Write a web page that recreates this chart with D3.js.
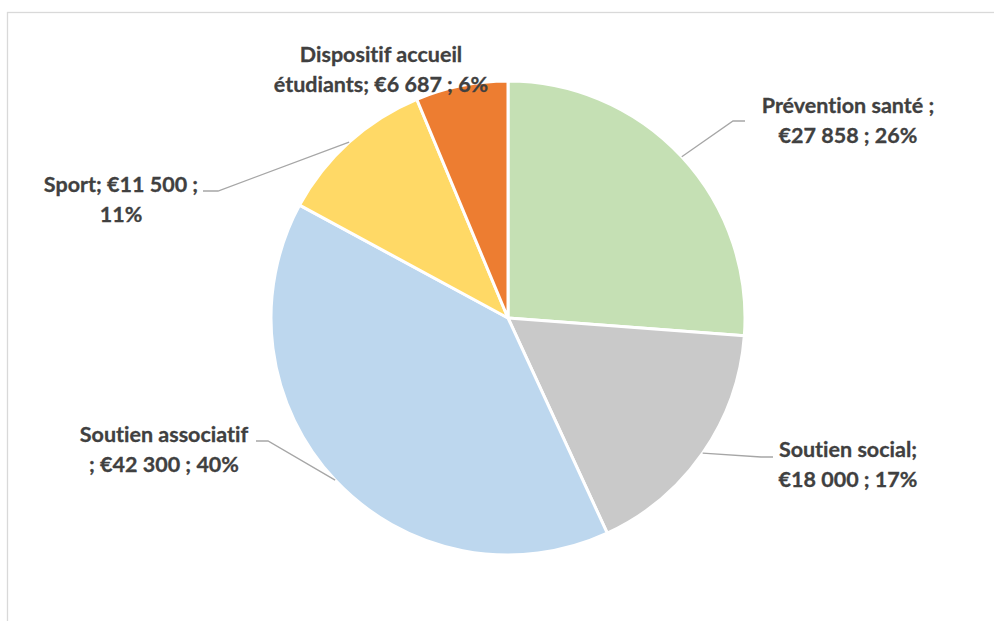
<!DOCTYPE html>
<html>
<head>
<meta charset="utf-8">
<script src="https://cdn.jsdelivr.net/npm/d3@7"></script>
<style>
  body { margin: 0; background: #fff; }
  .label { font-family: Lato, "Open Sans", sans-serif; font-weight: bold; font-size: 21.5px; fill: #404040; stroke: #404040; stroke-width: 0.3px; font-variant-ligatures: none; }
</style>
</head>
<body>
<svg id="chart" width="994" height="621"></svg>
<script>
// data
const categories = ['Prévention santé', 'Soutien social', 'Soutien associatif', 'Sport', 'Dispositif accueil étudiants']
const values = [27858, 18000, 42300, 11500, 6687]
const colors = ['#C5E0B4', '#C9C9C9', '#BDD7EE', '#FFD966', '#ED7D31']

// label text lines, as wrapped in the original
const labelLines = [
  d => [`${d.cat} ;`, `${d.eur} ; ${d.pct}`],
  d => [`${d.cat};`, `${d.eur} ; ${d.pct}`],
  d => [`${d.cat}`, `; ${d.eur} ; ${d.pct}`],
  d => [`${d.cat}; ${d.eur} ;`, `${d.pct}`],
  d => ['Dispositif accueil', `étudiants; ${d.eur} ; ${d.pct}`]
]

// layout of labels: text centre x, first baseline, leader attach point, elbow side
const labelLayout = [
  { x: 848, y: 113, attach: [745, 121], elbow: -12 },
  { x: 848, y: 457, attach: [773, 457], elbow: -12 },
  { x: 164, y: 442, attach: [256, 441], elbow: 12 },
  { x: 121, y: 192, attach: [203, 191], elbow: 15 },
  { x: 381, y: 62, attach: null }
]

const width = 994, height = 621
const CENTER = { x: 508, y: 318 }
const RADIUS = 237
const LINE_H = 29.5

const $svg = d3.select('#chart')

// chart frame (cut off at right and bottom like the source)
$svg.append('rect')
  .attr('x', 7.5).attr('y', 12.5)
  .attr('width', width + 20).attr('height', height + 20)
  .attr('fill', 'none')
  .attr('stroke', '#d9d9d9')
  .attr('stroke-width', 1.3)

const total = d3.sum(values)
const fmtNum = v => d3.format(',')(v).replace(/,/g, ' ')

const dataset = categories.map((cat, i) => ({
  cat,
  value: values[i],
  color: colors[i],
  eur: `€${fmtNum(values[i])}`,
  pct: `${Math.round(values[i] / total * 100)}%`,
  i
}))

const pie = d3.pie().sort(null).value(d => d.value)
const arc = d3.arc().innerRadius(0).outerRadius(RADIUS)
const arcs = pie(dataset)

const $gPie = $svg.append('g')
  .attr('transform', `translate(${CENTER.x}, ${CENTER.y})`)

$gPie.selectAll('path')
  .data(arcs)
  .enter()
  .append('path')
  .attr('d', arc)
  .attr('fill', d => d.data.color)
  .attr('stroke', '#fff')
  .attr('stroke-width', 3)
  .attr('stroke-linejoin', 'round')

// leader lines
arcs.forEach(a => {
  const lay = labelLayout[a.data.i]
  if (!lay.attach) return
  const mid = (a.startAngle + a.endAngle) / 2
  const p0 = [CENTER.x + RADIUS * Math.sin(mid), CENTER.y - RADIUS * Math.cos(mid)]
  const p1 = [lay.attach[0] + lay.elbow, lay.attach[1]]
  $svg.append('polyline')
    .attr('points', [p0, p1, lay.attach].map(p => p.join(',')).join(' '))
    .attr('fill', 'none')
    .attr('stroke', '#a6a6a6')
    .attr('stroke-width', 1.3)
})

// labels
dataset.forEach(d => {
  const lay = labelLayout[d.i]
  const t = $svg.append('text')
    .attr('class', 'label')
    .attr('text-anchor', 'middle')
  labelLines[d.i](d).forEach((line, k) => {
    t.append('tspan')
      .attr('x', lay.x)
      .attr('y', lay.y + k * LINE_H)
      .text(line)
  })
})
</script>
</body>
</html>
